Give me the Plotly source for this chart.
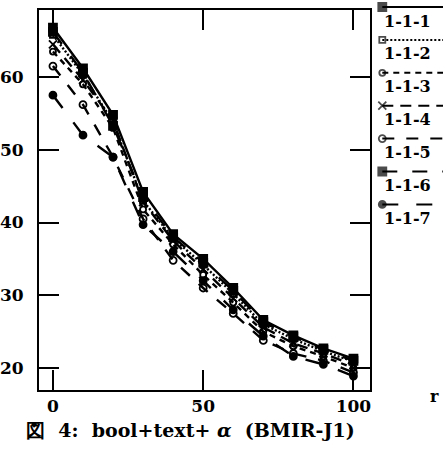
import plotly.graph_objects as go

# ---- data ----
r_values = [0, 10, 20, 30, 40, 50, 60, 70, 80, 90, 100]
s_111 = [66.8, 61.2, 54.8, 44.2, 38.4, 35.0, 31.0, 26.6, 24.5, 22.7, 21.3]
s_112 = [65.8, 60.3, 53.8, 43.0, 37.8, 34.2, 30.2, 26.0, 24.0, 22.3, 20.9]
s_113 = [63.5, 59.0, 53.0, 41.8, 37.0, 32.8, 29.0, 25.0, 23.0, 21.6, 20.0]
s_114 = [64.5, 59.6, 54.0, 42.8, 37.5, 33.6, 29.6, 25.6, 23.4, 22.0, 20.4]
s_115 = [61.5, 56.2, 49.0, 40.5, 34.8, 31.0, 27.5, 23.8, 22.0, 21.0, 19.4]
s_116 = [66.2, 60.6, 53.3, 43.5, 38.0, 34.5, 30.6, 26.3, 24.3, 22.5, 21.0]
s_117 = [57.5, 52.0, 49.0, 39.7, 36.0, 32.0, 28.0, 24.4, 21.6, 20.5, 18.9]
series_names = ["1-1-1", "1-1-2", "1-1-3", "1-1-4", "1-1-5", "1-1-6", "1-1-7"]
x_ticks = [0, 50, 100]
y_ticks = [20, 30, 40, 50, 60]
caption = "図\u00a0 4:\u00a0 bool+text+\u00a0<i>α</i>\u00a0 (BMIR-J1)"
x_label = "r"

series_values = [s_111, s_112, s_113, s_114, s_115, s_116, s_117]
styles = [
    dict(dash="solid", symbol="square", size=8),
    dict(dash="2px,2px", symbol="square-open", size=6),
    dict(dash="6px,5px", symbol="circle-open", size=6),
    dict(dash="11px,7px", symbol="x-thin", size=8),
    dict(dash="12px,12px", symbol="circle-open", size=7),
    dict(dash="15px,15px", symbol="square", size=8),
    dict(dash="16px,18px", symbol="circle", size=7),
]

W, H = 444, 454
ML, MB = 38, 64
plot_h = H - MB  # 390
fig = go.Figure()

for name, vals, st in zip(series_names, series_values, styles):
    fig.add_trace(go.Scatter(
        x=r_values, y=vals, mode="lines+markers", name=name,
        line=dict(color="black", width=2.4, dash=st["dash"]),
        marker=dict(symbol=st["symbol"], size=st["size"], color="black",
                    line=dict(color="black", width=1.8)),
        showlegend=False, xaxis="x", yaxis="y",
    ))

# ---- custom legend (marker at left of line sample, label beneath) ----
leg_x0, leg_x1 = 383, 444
leg_y0, leg_dy = 7, 32.9
for i, (name, st) in enumerate(zip(series_names, styles)):
    yy = leg_y0 + i * leg_dy
    fig.add_trace(go.Scatter(
        x=[leg_x0, leg_x1], y=[yy, yy], mode="lines+markers",
        line=dict(color="black", width=2, dash=st["dash"]),
        marker=dict(symbol=st["symbol"], size=[st["size"], 0], color="black",
                    line=dict(color="black", width=1.8)),
        showlegend=False, xaxis="x2", yaxis="y2", hoverinfo="skip",
    ))

axis_font = dict(family="DejaVu Serif", size=17, color="black", weight="bold")
fig.update_layout(
    width=W, height=H,
    margin=dict(l=ML, r=0, t=0, b=MB),
    paper_bgcolor="white", plot_bgcolor="rgba(0,0,0,0)",
    font=dict(family="DejaVu Serif", color="black"),
    xaxis=dict(domain=[0, (371 - ML) / (W - ML)], range=[-4.64, 105.63],
               tickvals=x_ticks, ticks="inside", ticklen=20, tickwidth=2,
               tickcolor="black", showline=True, linewidth=2, linecolor="black",
               mirror="ticks", showgrid=False, zeroline=False,
               tickfont=axis_font, ticklabelstandoff=0),
    yaxis=dict(domain=[0, (plot_h - 10) / plot_h], range=[16.98, 69.21],
               tickvals=y_ticks, ticks="inside", ticklen=20, tickwidth=2,
               tickcolor="black", showline=True, linewidth=2, linecolor="black",
               mirror="ticks", showgrid=False, zeroline=False,
               tickfont=axis_font, ticklabelstandoff=10),
    xaxis2=dict(domain=[0, 1], range=[ML, W], visible=False, anchor="y2"),
    yaxis2=dict(domain=[0, 1], range=[plot_h, 0], visible=False, anchor="x2"),
)

def px_to_paper(px, py):
    return (px - ML) / (W - ML), (plot_h - py) / plot_h

for i, name in enumerate(series_names):
    tx, ty = px_to_paper(leg_x0, leg_y0 + i * leg_dy + 14)
    fig.add_annotation(x=tx, y=ty, xref="paper", yref="paper", text=name,
                       showarrow=False, xanchor="left", yanchor="middle",
                       font=dict(family="DejaVu Serif", size=16, color="black",
                                 weight="bold"))

cx, cy = px_to_paper(190, 430)
fig.add_annotation(x=cx, y=cy, xref="paper", yref="paper", text=caption,
                   showarrow=False, xanchor="center", yanchor="middle",
                   font=dict(family="DejaVu Serif", size=19, color="black", weight="bold"))
rx, ry = px_to_paper(435, 396)
fig.add_annotation(x=rx, y=ry, xref="paper", yref="paper", text=x_label,
                   showarrow=False, xanchor="center", yanchor="middle",
                   font=dict(family="DejaVu Serif", size=16, color="black", weight="bold"))

fig.write_html("out.html")
